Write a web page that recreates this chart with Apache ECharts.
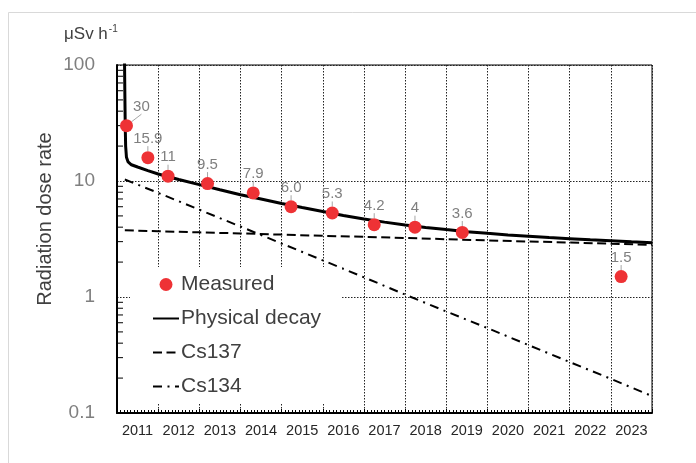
<!DOCTYPE html>
<html>
<head>
<meta charset="utf-8">
<title>Radiation dose rate</title>
<script src="https://cdn.jsdelivr.net/npm/echarts@6.0.0/dist/echarts.min.js"></script>
<style>
  html, body { margin: 0; padding: 0; background: #fff; }
  #chart { width: 696px; height: 463px; }
</style>
</head>
<body>
<div id="chart"></div>
<script>
// Year labels shown under each calendar-year band
const yearLabels = ['2011', '2012', '2013', '2014', '2015', '2016', '2017',
  '2018', '2019', '2020', '2021', '2022', '2023'];

// Measured air dose rates (μSv/h), time in decimal years
const measuredYears = [2011.23, 2011.75, 2012.24, 2013.20, 2014.31, 2015.23,
  2016.23, 2017.25, 2018.24, 2019.39, 2023.25];
const measuredValues = [30, 15.9, 11, 9.5, 7.9, 6.0, 5.3, 4.2, 4, 3.6, 1.5];
const measuredLabels = ['30', '15.9', '11', '9.5', '7.9', '6.0', '5.3', '4.2',
  '4', '3.6', '1.5'];

// Physical decay curve (all nuclides)
const decayYears = [2011.17, 2011.19, 2011.20, 2011.21, 2011.23, 2011.27,
  2011.35, 2011.5, 2011.75, 2012.0, 2012.5, 2013.0, 2013.5, 2014.0, 2014.5,
  2015.0, 2015.5, 2016.0, 2016.5, 2017.0, 2017.5, 2018.0, 2018.5, 2019.0,
  2019.5, 2020.0, 2020.5, 2021.0, 2021.5, 2022.0, 2022.5, 2023.0, 2023.5, 2024.0];
const decayValues = [300, 60, 30, 20, 16, 14.6, 13.8, 13.2, 12.3, 11.5, 10.3,
  9.3, 8.4, 7.6, 7.0, 6.4, 5.9, 5.45, 5.05, 4.7, 4.42, 4.18, 3.98, 3.81, 3.66,
  3.54, 3.43, 3.34, 3.25, 3.18, 3.11, 3.05, 2.99, 2.94];

// Cs-137 and Cs-134 contributions
const cesiumYears = [2011.19, 2012, 2013, 2014, 2015, 2016, 2017, 2018, 2019,
  2020, 2021, 2022, 2023, 2024];
const cs137Values = [3.76, 3.69, 3.61, 3.53, 3.45, 3.37, 3.30, 3.23, 3.15,
  3.08, 3.01, 2.95, 2.88, 2.82];
const cs134Values = [10.3, 7.9, 5.66, 4.05, 2.89, 2.07, 1.48, 1.05, 0.75,
  0.54, 0.385, 0.275, 0.197, 0.14];

// Minor ticks of the logarithmic dose-rate axis
const yMinorTicks = [0.2, 0.3, 0.4, 0.5, 0.6, 0.7, 0.8, 0.9,
  2, 3, 4, 5, 6, 7, 8, 9, 20, 30, 40, 50, 60, 70, 80, 90];

const X_MIN = 2011, X_MAX = 2024;
const FONT = "'Liberation Sans', Arial, sans-serif";

const pairs = (xs, ys) => xs.map((x, i) => [x, ys[i]]);

// line-only legend icons: hide the marker drawn on top of the line
const lineOnly = { color: 'rgba(0,0,0,0)', borderWidth: 0, opacity: 0 };

const chart = echarts.init(document.getElementById('chart'), null, { renderer: 'canvas' });

chart.setOption({
  animation: false,
  backgroundColor: '#fff',
  textStyle: { fontFamily: FONT },
  graphic: [
    {
      type: 'rect',
      shape: { x: 8.5, y: 12.5, width: 720, height: 480 },
      style: { fill: 'none', stroke: '#d9d9d9', lineWidth: 1 },
      silent: true, z: -10
    },
    {
      type: 'text',
      x: 64, y: 34,
      style: {
        text: '{a|μSv h}{b|-1}',
        verticalAlign: 'middle',
        rich: {
          a: { fontSize: 17, fill: '#404040', fontFamily: FONT },
          b: { fontSize: 10, fill: '#404040', fontFamily: FONT, padding: [0, 0, 9, 1] }
        }
      }
    },
    {
      type: 'text',
      x: 45, y: 219,
      rotation: Math.PI / 2,
      style: {
        text: 'Radiation dose rate',
        align: 'center',
        verticalAlign: 'middle',
        fontSize: 20,
        fill: '#404040',
        fontFamily: FONT
      }
    }
  ],
  grid: {
    left: 117, right: 44, top: 65, bottom: 50,
    show: true, borderColor: '#000', borderWidth: 1,
    containLabel: false, outerBoundsMode: 'none'
  },
  legend: {
    orient: 'vertical',
    left: 130, top: 267,
    padding: [7, 21, 7, 22],
    backgroundColor: '#fff',
    itemWidth: 26, itemHeight: 13, itemGap: 13,
    textStyle: { fontSize: 21, color: '#404040', fontFamily: FONT, padding: [0, 0, 0, -3] },
    data: [
      { name: 'Measured', icon: 'circle' },
      { name: 'Physical decay', itemStyle: lineOnly },
      { name: 'Cs137', itemStyle: lineOnly },
      { name: 'Cs134', itemStyle: lineOnly }
    ],
    selectedMode: false
  },
  xAxis: [
    {
      type: 'value',
      min: X_MIN, max: X_MAX, interval: 1,
      axisLine: { show: true, onZero: false, lineStyle: { color: '#000', width: 2 } },
      axisTick: { show: true, inside: true, length: 4, lineStyle: { color: '#000', width: 1 } },
      minorTick: { show: true, splitNumber: 12, length: 3, lineStyle: { color: '#000', width: 1 } },
      axisLabel: { show: false },
      splitLine: { show: true, lineStyle: { color: '#222', width: 1, type: [1.5, 1.5] } }
    },
    {
      type: 'category',
      data: yearLabels,
      boundaryGap: true,
      position: 'bottom',
      axisLine: { show: false },
      axisTick: { show: false },
      splitLine: { show: false },
      axisLabel: { interval: 0, margin: 10, fontSize: 14.5, color: '#262626', fontFamily: FONT }
    }
  ],
  yAxis: {
    type: 'log',
    logBase: 10,
    min: 0.1, max: 100,
    axisLine: { show: true, lineStyle: { color: '#000', width: 2 } },
    axisTick: { show: false },
    axisLabel: {
      margin: 22, fontSize: 19, color: '#7f7f7f', fontFamily: FONT,
      formatter: v => String(v)
    },
    splitLine: { show: true, lineStyle: { color: '#222', width: 1, type: [1.5, 1.5] } }
  },
  series: [
    {
      type: 'custom',
      silent: true,
      xAxisIndex: 0,
      data: yMinorTicks.map(v => [X_MIN, v]),
      renderItem: (params, api) => {
        const p = api.coord([api.value(0), api.value(1)]);
        return {
          type: 'line',
          shape: { x1: p[0], y1: p[1], x2: p[0] + 6, y2: p[1] },
          style: { stroke: '#000', lineWidth: 1 }
        };
      },
      z: 1
    },
    {
      name: 'Cs137',
      type: 'line',
      xAxisIndex: 0,
      data: pairs(cesiumYears, cs137Values),
      showSymbol: false, symbol: 'none',
      lineStyle: { color: '#000', width: 2, type: [9, 4.5] },
      itemStyle: { color: '#000' },
      z: 3
    },
    {
      name: 'Cs134',
      type: 'line',
      xAxisIndex: 0,
      data: pairs(cesiumYears, cs134Values),
      showSymbol: false, symbol: 'none',
      lineStyle: { color: '#000', width: 2, type: [9, 5.5, 2, 5.5] },
      itemStyle: { color: '#000' },
      z: 3
    },
    {
      name: 'Physical decay',
      type: 'line',
      xAxisIndex: 0,
      data: pairs(decayYears, decayValues),
      showSymbol: false, symbol: 'none',
      clip: true,
      lineStyle: { color: '#000', width: 3 },
      itemStyle: { color: '#000' },
      z: 4
    },
    {
      name: 'Measured',
      type: 'scatter',
      xAxisIndex: 0,
      data: pairs(measuredYears, measuredValues),
      symbol: 'circle',
      symbolSize: 13,
      itemStyle: { color: '#ee3235', opacity: 1 },
      label: {
        show: true,
        position: 'top',
        distance: 5,
        fontSize: 15,
        color: '#7f7f7f',
        fontFamily: FONT,
        formatter: p => measuredLabels[p.dataIndex]
      },
      labelLayout: params => (params.dataIndex === 0 ? { dx: 15, dy: 0 } : {}),
      labelLine: { show: true, lineStyle: { color: '#a6a6a6', width: 1 } },
      z: 5
    }
  ]
});
</script>
</body>
</html>
